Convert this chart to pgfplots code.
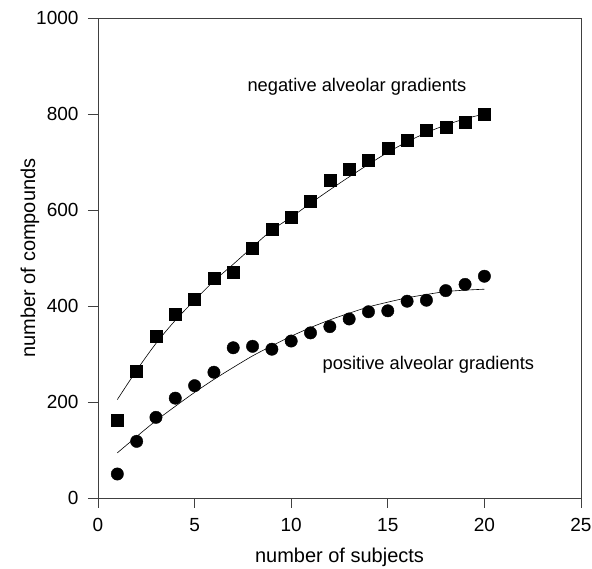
\documentclass[border=0pt]{standalone}
\usepackage{fontspec}
\setmainfont{Liberation Sans}
\usepackage{pgfplots}
\pgfplotsset{compat=1.18}

\pgfplotstableread{
x  neg  pos
1  163  50
2  265  118
3  337  168
4  383  208
5  415  234
6  457  262
7  470  313
8  520  316
9  560  310
10 585  327
11 619  344
12 662  357
13 686  373
14 703  388
15 729  390
16 745  410
17 767  412
18 773  432
19 782  445
20 800  462
}\datatab

% fitted curves
\pgfplotstableread{
x  neg  pos
1  205  94
2  266  128
3  322  161
4  370  191
5  412  220
6  452  247
7  487  272
8  523  296
9  558  317
10 585  337
11 614  355
12 642  371
13 669  385
14 695  398
15 720  408
16 742  417
17 761  424
18 777  430
19 790  433
20 800  435
}\fittab

\begin{document}
\begin{tikzpicture}
\useasboundingbox (-98pt,-71pt) rectangle (494pt,498pt);
\begin{axis}[
    scale only axis,
    width=483pt, height=480pt,
    xmin=0, xmax=25, ymin=0, ymax=1000,
    xtick={0,5,...,25}, ytick={0,200,...,1000},
    tick align=outside,
    xtick pos=bottom, ytick pos=left,
    major tick length=10pt,
    axis line style={black!75, line width=0.7pt},
    every tick/.style={black!75, line width=0.7pt},
    tick label style={font=\fontsize{19}{22}\selectfont},
    xticklabel style={yshift=-7pt},
    yticklabel style={xshift=-6pt},
    /pgf/number format/assume math mode=true,
    /pgf/number format/1000 sep={},
    xlabel={number of subjects},
    ylabel={number of compounds},
    label style={font=\fontsize{20}{23}\selectfont},
    xlabel style={at={(axis description cs:0.5,-0.124)}, anchor=center},
    ylabel style={at={(axis description cs:-0.141,0.5)}, anchor=center},
    clip=false,
]
\addplot[only marks, mark=square*, mark size=6pt, black] table[x=x, y=neg] {\datatab};
\addplot[only marks, mark=*, mark size=6.2pt, black] table[x=x, y=pos] {\datatab};
\addplot[black, line width=0.6pt, smooth, no marks] table[x=x, y=neg] {\fittab};
\addplot[black, line width=0.6pt, smooth, no marks] table[x=x, y=pos] {\fittab};
\node[font=\fontsize{18.3}{21}\selectfont] at (axis cs:13.4,856) {negative alveolar gradients};
\node[font=\fontsize{18.3}{21}\selectfont] at (axis cs:17.1,277) {positive alveolar gradients};
\end{axis}
\end{tikzpicture}
\end{document}
